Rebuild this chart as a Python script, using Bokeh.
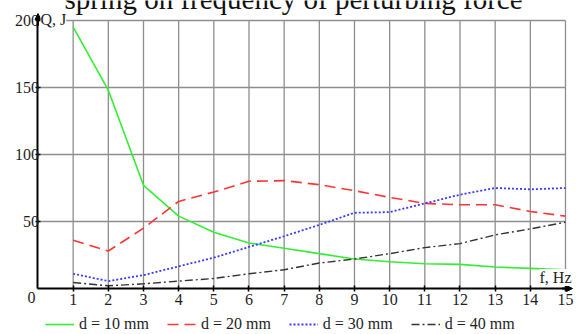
from bokeh.plotting import figure
from bokeh.models import (Range1d, FixedTicker, Label, Legend, LegendItem, Arrow,
                          NormalHead, LinearAxis)
from bokeh.embed import file_html
from bokeh.resources import INLINE

# data
freq = [1, 2, 3, 4, 5, 6, 7, 8, 9, 10, 11, 12, 13, 14, 15]
q_d10 = [195, 148, 77, 54, 42, 34, 30, 26, 22, 20, 18.5, 18, 16, 15, 14]
q_d20 = [36, 28, 45, 65, 72, 80, 80.5, 77.5, 73, 68, 63.5, 62.5, 62.5, 57.5, 54]
q_d30 = [11, 5.5, 10, 16.5, 23, 31, 39, 47.5, 56.5, 57, 63.5, 70, 75, 74, 75]
q_d40 = [4.5, 2, 3.5, 5.5, 7.5, 11, 14, 19, 22, 26, 30.5, 33.5, 40, 44.5, 49.5]
y_ticks = [50, 100, 150, 200]
series_labels = ["d = 10 mm", "d = 20 mm", "d = 30 mm", "d = 40 mm"]
title_text = "spring on frequency of perturbing force"

FONT = "Liberation Serif"
TXT = "#1e1e1e"

p = figure(width=576, height=334, x_range=Range1d(-1.066, 15.313),
           y_range=Range1d(-34.33, 214.93), x_axis_type=None, y_axis_type=None,
           output_backend="svg", toolbar_location=None, min_border=0)
p.outline_line_color = None
p.background_fill_color = "white"

# grid lines (only inside the data area)
p.segment(x0=freq, y0=[0] * len(freq), x1=freq, y1=[200] * len(freq),
          line_color="#8e8e8e", line_width=1.3)
p.segment(x0=[0] * len(y_ticks), y0=y_ticks, x1=[15] * len(y_ticks), y1=y_ticks,
          line_color="#8e8e8e", line_width=1.3)

# data lines
r1 = p.line(freq, q_d10, line_color="#33ee33", line_width=1.6)
r2 = p.line(freq, q_d20, line_color="#ff3535", line_width=1.6, line_dash="11 6")
r3 = p.line(freq, q_d30, line_color="#3a3aff", line_width=1.8, line_dash="2 2")
r4 = p.line(freq, q_d40, line_color="#333333", line_width=1.4, line_dash="8 3 2 3")

# axes crossing at the origin
yaxis = LinearAxis(fixed_location=0, bounds=(0, 200), ticker=FixedTicker(ticks=y_ticks))
xaxis = LinearAxis(fixed_location=0, bounds=(0, 15), ticker=FixedTicker(ticks=freq))
for ax in (xaxis, yaxis):
    ax.axis_line_color = "black"
    ax.axis_line_width = 2
    ax.major_tick_line_color = "black"
    ax.major_tick_line_width = 1.5
    ax.major_tick_in = 3
    ax.major_tick_out = 3
    ax.minor_tick_line_color = None
    ax.major_label_text_font = FONT
    ax.major_label_text_font_size = "16px"
    ax.major_label_text_color = TXT
yaxis.major_tick_out = 2
yaxis.major_label_standoff = -3
xaxis.major_label_standoff = 3
p.add_layout(yaxis, "left")
p.add_layout(xaxis, "below")

# arrows on axes
p.add_layout(Arrow(end=NormalHead(size=6, fill_color="black", line_color="black"),
                   x_start=0, y_start=196, x_end=0, y_end=205.2, line_width=2,
                   line_color="black"))
p.add_layout(Arrow(end=NormalHead(size=6, fill_color="black", line_color="black"),
                   x_start=14.9, y_start=0, x_end=15.2, y_end=0, line_width=2,
                   line_color="black"))

# texts
p.add_layout(Label(x=0, y=200, x_offset=2.5, y_offset=1, text="Q, J",
                   text_baseline="alphabetic", text_font=FONT, text_font_size="16px",
                   text_color=TXT, background_fill_color="white"))
p.add_layout(Label(x=15, y=0, x_offset=6, y_offset=11, text="f, Hz", text_align="right",
                   text_baseline="alphabetic", text_font=FONT, text_font_size="16px",
                   text_color=TXT, background_fill_color="white"))
p.add_layout(Label(x=0, y=0, x_offset=-2.5, y_offset=-9, text="0", text_align="right",
                   text_baseline="alphabetic", text_font=FONT, text_font_size="16px",
                   text_color=TXT))
p.add_layout(Label(x=7.265, y=211.4, y_offset=6, text=title_text, text_align="center",
                   text_baseline="alphabetic", text_font=FONT, text_font_size="29px",
                   text_color="#111111"))

legend = Legend(items=[LegendItem(label=series_labels[0], renderers=[r1]),
                       LegendItem(label=series_labels[1], renderers=[r2]),
                       LegendItem(label=series_labels[2], renderers=[r3]),
                       LegendItem(label=series_labels[3], renderers=[r4])],
                orientation="horizontal", location=(45, 0),
                border_line_color=None, background_fill_alpha=0,
                padding=0, margin=0, spacing=18, glyph_width=29, label_standoff=5,
                label_text_font=FONT, label_text_font_size="16px", label_text_color=TXT)
p.add_layout(legend, "center")

open("out.html", "w").write(file_html(p, INLINE))
